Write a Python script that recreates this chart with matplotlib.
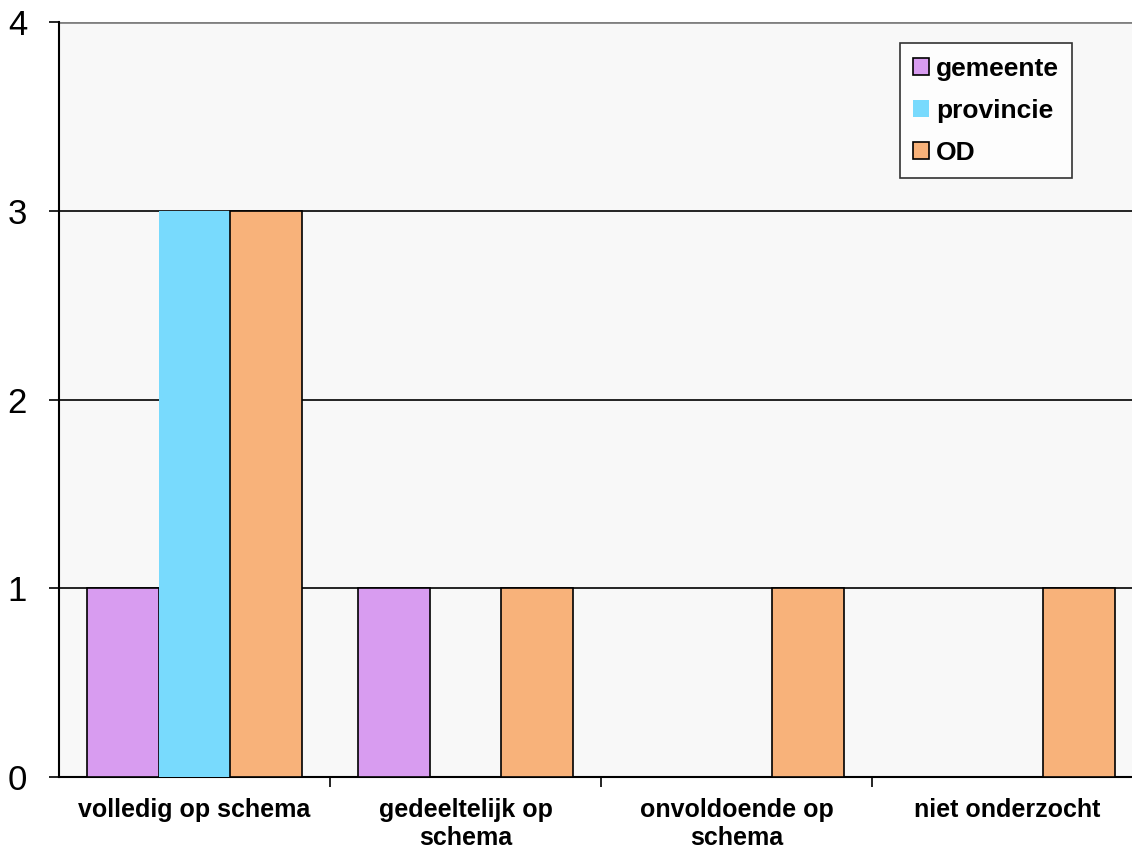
import numpy as np
import matplotlib.pyplot as plt
from matplotlib.ticker import FixedLocator

categories = ['volledig op schema', 'gedeeltelijk op\nschema', 'onvoldoende op\nschema', 'niet onderzocht']
series_names = ['gemeente', 'provincie', 'OD']
gemeente = [1, 1, 0, 0]
provincie = [3, 0, 0, 0]
od = [3, 1, 1, 1]
colors = ['#D89CF0', '#78DAFD', '#F8B27A']
edges = ['black', 'none', 'black']

plt.rcParams['font.family'] = ['Liberation Sans', 'DejaVu Sans']

fig = plt.figure(figsize=(11.32, 8.48), dpi=100)
ax = fig.add_axes([0.0521, 0.0837, 0.9576, 0.890])
ax.set_facecolor('#F8F8F8')

x = np.arange(len(categories))
width = 0.265
for i, (name, vals) in enumerate(zip(series_names, [gemeente, provincie, od])):
    ax.bar(x + (i - 1) * width, vals, width, color=colors[i], edgecolor=edges[i],
           linewidth=1.2, label=name, zorder=3)

ax.set_xlim(-0.5, 3.5)
ax.set_ylim(0, 4)
ax.set_yticks([0, 1, 2, 3, 4])
ax.tick_params(axis='y', labelsize=25, length=7, width=1.2, pad=16, direction='out')
for y in [1, 2, 3]:
    ax.axhline(y, color='black', linewidth=1.2, zorder=1)
ax.axhline(4, color='#808080', linewidth=2, zorder=1)

ax.xaxis.set_major_locator(FixedLocator(x[:-1] + 0.5))
ax.xaxis.set_minor_locator(FixedLocator(x))
ax.set_xticklabels([], minor=False)
ax.set_xticklabels(categories, minor=True, fontsize=18, fontweight='bold', linespacing=1.2)
ax.tick_params(axis='x', which='major', length=7, width=1.2, direction='out')
ax.tick_params(axis='x', which='minor', length=0, pad=15)

for s in ['top', 'right']:
    ax.spines[s].set_visible(False)
ax.spines['left'].set_linewidth(1.5)
ax.spines['bottom'].set_linewidth(1.5)

leg = ax.legend(loc='upper left', bbox_to_anchor=(0.776, 0.972), frameon=True, fancybox=False,
                edgecolor='black', prop={'size': 19, 'weight': 'bold'},
                handlelength=0.6, handleheight=0.6, handletextpad=0.25,
                labelspacing=0.68, borderpad=0.5, borderaxespad=0)
leg.get_frame().set_linewidth(1.2)
leg.set_zorder(5)

fig.savefig('out.png', dpi=100, facecolor='white')
